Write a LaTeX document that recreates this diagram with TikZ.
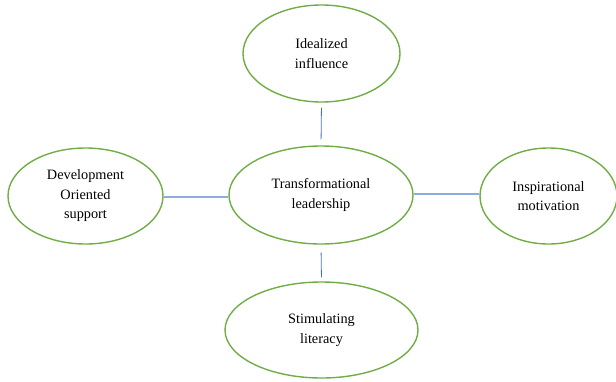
\documentclass[tikz,border=0pt]{standalone}
\usepackage{fontspec}
\setmainfont{Liberation Serif}
\usetikzlibrary{shapes.geometric}
\definecolor{egreen}{HTML}{70AD47}
\definecolor{lblue}{HTML}{8FAADC}
\definecolor{dblue}{HTML}{4472C4}
\begin{document}
\begin{tikzpicture}[x=1bp,y=1bp,
  oval/.style={ellipse,draw=egreen,line width=1.4bp,inner sep=0pt,align=center,
    font=\fontsize{14.3bp}{19.5bp}\selectfont},
  vlink/.style={draw=dblue,line width=0.8bp},
  hlink/.style={draw=lblue,line width=1.6bp}]
\useasboundingbox (0,0) rectangle (616,381);
\node[oval,minimum width=157bp,minimum height=97bp] (top) at (321.5,327.5) {Idealized\\influence};
\node[oval,minimum width=184bp,minimum height=98bp] (ctr) at (321,186) {Transformational\\leadership};
\node[oval,minimum width=155bp,minimum height=96bp] (lft) at (85.5,185) {Development\\Oriented\\support};
\node[oval,minimum width=137bp,minimum height=96bp] (rgt) at (548.5,185) {Inspirational\\motivation};
\node[oval,minimum width=193bp,minimum height=96bp] (bot) at (321.5,51) {Stimulating\\literacy};
\draw[vlink,shorten <=5bp,shorten >=6bp] (top.south) -- (ctr.north);
\draw[vlink,shorten <=8bp,shorten >=4bp] (ctr.south) -- (bot.north);
\draw[hlink] ([yshift=-1bp]lft.east) -- ([yshift=-1bp]lft.east -| ctr.west);
\draw[hlink] ([yshift=1bp]ctr.east) -- ([yshift=1bp]ctr.east -| rgt.west);
\end{tikzpicture}
\end{document}
